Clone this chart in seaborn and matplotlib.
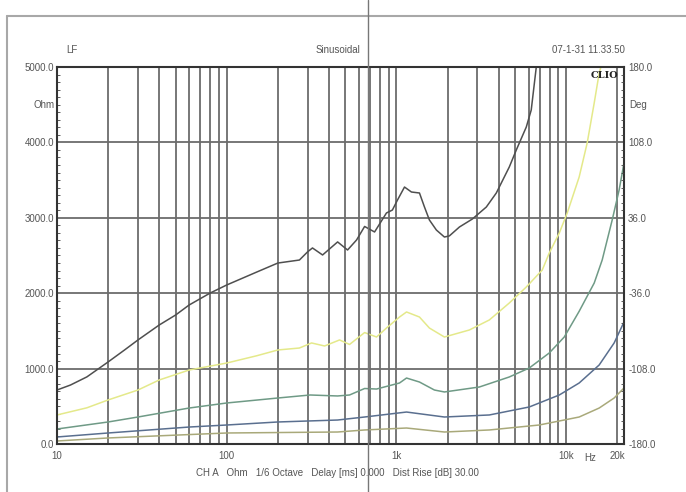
import matplotlib
matplotlib.use("Agg")
import matplotlib.pyplot as plt
from matplotlib.lines import Line2D
from matplotlib.ticker import LogLocator, MultipleLocator, NullFormatter
import seaborn as sns
import pandas as pd

# impedance curves (Hz -> Ohm)
black_freq = [10, 12, 15, 20, 25, 30, 40, 50, 60, 80, 100, 150, 200, 268, 300, 320, 367, 450, 515, 582, 649,
              743, 873, 946, 1014, 1115, 1225, 1366, 1462, 1563, 1718, 1916, 2050, 2349, 2800, 3383, 3874,
              4620, 5082, 5818, 6222, 6663]
black_ohm = [716, 782, 890, 1088, 1247, 1380, 1578, 1711, 1843, 2003, 2109, 2280, 2400, 2440, 2550, 2600, 2507,
             2680, 2573, 2706, 2885, 2812, 3064, 3103, 3236, 3408, 3342, 3329, 3143, 2971, 2838, 2745, 2760,
             2878, 2984, 3143, 3329, 3674, 3900, 4204, 4430, 5000]

yellow_freq = [10, 15, 20, 30, 40, 60, 100, 150, 200, 268, 316, 377, 462, 529, 649, 763, 873, 1042, 1146,
               1366, 1563, 1916, 2687, 3524, 4620, 5818, 7228, 7943, 9103, 10140, 11920, 13290, 14620, 15640,
               16000]
yellow_ohm = [385, 480, 584, 716, 849, 981, 1074, 1170, 1247, 1273, 1340, 1300, 1380, 1320, 1478, 1419, 1538,
              1684, 1751, 1684, 1538, 1419, 1512, 1645, 1870, 2082, 2308, 2533, 2798, 3064, 3541, 3992, 4523,
              4920, 5000]

green_freq = [10, 20, 30, 60, 100, 200, 310, 450, 529, 649, 763, 1042, 1146, 1366, 1673, 1916, 3079, 4620,
              6057, 7943, 9737, 11920, 14620, 16290, 18660, 20500, 21900]
green_ohm = [199, 292, 358, 477, 544, 610, 650, 637, 650, 736, 729, 809, 875, 822, 716, 690, 756, 889,
             1008, 1207, 1419, 1760, 2135, 2440, 2971, 3369, 3727]

blue_freq = [10, 20, 60, 100, 200, 450, 649, 1146, 1916, 3524, 6057, 9103, 11920, 15640, 19160, 21900]
blue_ohm = [93, 146, 225, 252, 292, 318, 358, 424, 358, 385, 491, 650, 809, 1048, 1340, 1618]

olive_freq = [10, 20, 100, 450, 649, 1146, 1916, 3524, 6938, 11920, 15640, 19160, 21900]
olive_ohm = [40, 80, 146, 159, 186, 212, 159, 186, 252, 358, 477, 610, 743]

x_ticks = [10, 100, 1000, 10000, 20000]
x_labels = ["10", "100", "1k", "10k", "20k"]
ohm_ticks = [0, 1000, 2000, 3000, 4000, 5000]
deg_ticks = [-180, -108, -36, 36, 108, 180]

curves = [
    (black_freq, black_ohm, "#4f4f4f"),
    (yellow_freq, yellow_ohm, "#e4e98a"),
    (green_freq, green_ohm, "#6f9a86"),
    (blue_freq, blue_ohm, "#5a6f8f"),
    (olive_freq, olive_ohm, "#a9a97a"),
]

sns.set_style("white")
plt.rcParams["font.family"] = ["Liberation Sans", "DejaVu Sans"]

fig = plt.figure(figsize=(6.86, 4.92), dpi=100)
ax = fig.add_axes([57 / 686, 1 - 444 / 492, (624 - 57) / 686, (444 - 67) / 492])

for freq, ohm, col in curves:
    df = pd.DataFrame({"Hz": freq, "Ohm": ohm})
    sns.lineplot(data=df, x="Hz", y="Ohm", color=col, lw=1.1, ax=ax, sort=False)

ax.set_xscale("log")
ax.set_xlim(10, 21900)
ax.set_ylim(0, 5000)
ax.set_xlabel("")
ax.set_ylabel("")

grid_col = "#6c6c6c"
ax.set_xticks(x_ticks)
ax.set_xticklabels(x_labels)
ax.xaxis.set_minor_locator(LogLocator(base=10, subs=[2, 3, 4, 5, 6, 7, 8, 9]))
ax.xaxis.set_minor_formatter(NullFormatter())
ax.set_yticks(ohm_ticks)
ax.set_yticklabels([f"{v:.1f}" for v in ohm_ticks])
ax.yaxis.set_minor_locator(MultipleLocator(100))
ax.grid(True, which="both", axis="x", color=grid_col, lw=1.3)
ax.grid(True, which="major", axis="y", color=grid_col, lw=1.3)
ax.set_axisbelow(True)

ax.tick_params(axis="x", which="both", length=0, labelsize=7, labelcolor="#555555", pad=5)
ax.tick_params(axis="y", which="major", length=0, labelsize=7, labelcolor="#555555", pad=2)
ax.tick_params(axis="y", which="minor", direction="in", length=2, color="#444444", left=True, right=True)

for s in ax.spines.values():
    s.set_color("#333333")
    s.set_linewidth(1.5)

# phase axis on the right
ax2 = ax.twinx()
ax2.set_ylim(-180, 180)
ax2.set_yticks(deg_ticks)
ax2.set_yticklabels([f"{v:.1f}" for v in deg_ticks])
ax2.tick_params(axis="y", length=0, labelsize=7, labelcolor="#555555", pad=3)
ax2.yaxis.set_minor_locator(MultipleLocator(7.2))
ax2.tick_params(axis="y", which="minor", direction="in", length=2, color="#444444")
for s in ax2.spines.values():
    s.set_visible(False)

txt = dict(fontsize=7, color="#555555")
fig.text(66 / 686, 1 - 50 / 492, "LF", ha="left", va="center", **txt)
fig.text(338 / 686, 1 - 50 / 492, "Sinusoidal", ha="center", va="center", **txt)
fig.text(625 / 686, 1 - 50 / 492, "07-1-31 11.33.50", ha="right", va="center", **txt)
fig.text(55 / 686, 1 - 105 / 492, "Ohm", ha="right", va="center", **txt)
fig.text(629 / 686, 1 - 105 / 492, "Deg", ha="left", va="center", **txt)
fig.text(590 / 686, 1 - 458 / 492, "Hz", ha="center", va="center", **txt)
fig.text(337 / 686, 1 - 473 / 492,
         "CH A   Ohm   1/6 Octave   Delay [ms] 0.000   Dist Rise [dB] 30.00",
         ha="center", va="center", **txt)
fig.text(604 / 686, 1 - 75 / 492, "CLIO", ha="center", va="center", fontsize=7,
         fontweight="bold", color="#222222", family="DejaVu Serif")

# screenshot frame and cursor line
fig.add_artist(Line2D([7 / 686, 1], [1 - 16 / 492, 1 - 16 / 492], color="#a8a8a8", lw=1.5))
fig.add_artist(Line2D([7 / 686, 7 / 686], [0, 1 - 16 / 492], color="#a8a8a8", lw=1.5))
fig.add_artist(Line2D([368 / 686, 368 / 686], [0, 1], color="#777777", lw=1.0))

fig.savefig("out.png", dpi=100)
plt.close(fig)
